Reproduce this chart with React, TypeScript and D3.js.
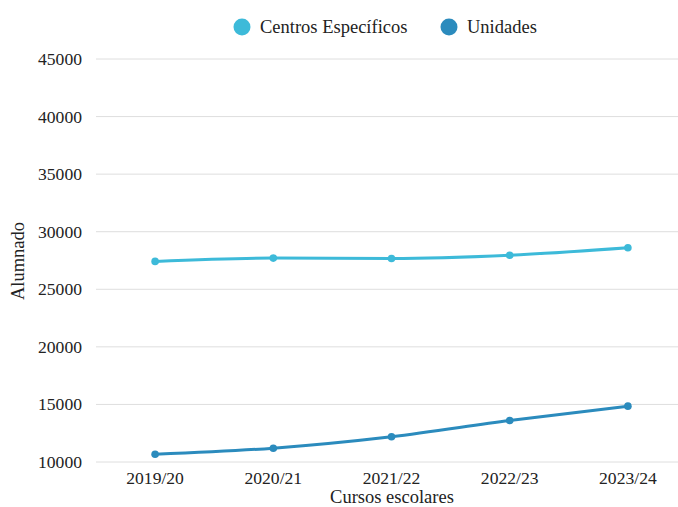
import React from "react";
import * as d3 from "d3";

const cursos = ["2019/20", "2020/21", "2021/22", "2022/23", "2023/24"];
const centrosEspecificos = [27420, 27710, 27680, 27960, 28610];
const unidades = [10670, 11200, 12190, 13600, 14850];
const yTicks = [10000, 15000, 20000, 25000, 30000, 35000, 40000, 45000];

const series = [
  { name: "Centros Específicos", values: centrosEspecificos, color: "#3dbad9" },
  { name: "Unidades", values: unidades, color: "#2b8bbd" },
];

const W = 678;
const H = 507;
const FONT = '"Liberation Serif", "Times New Roman", "DejaVu Serif", serif';
const textStyle = { fontFamily: FONT };
const TICK_SIZE = 17.6;
const TITLE_SIZE = 18.5;

export default function App() {
  const x = d3.scaleBand<string>().domain(cursos).range([96, 687]).padding(0);
  const y = d3.scaleLinear().domain([10000, 45000]).range([462, 59]);
  const cx = (c: string) => (x(c) ?? 0) + x.bandwidth() / 2;

  const line = d3
    .line<number>()
    .x((_, i) => cx(cursos[i]))
    .y((v) => y(v))
    .curve(d3.curveMonotoneX);

  const legendItems = [
    { ...series[0], cx: 242, tx: 260 },
    { ...series[1], cx: 449, tx: 467 },
  ];

  return (
    <svg
      width={W}
      height={H}
      style={{ position: "absolute", left: 0, top: 0, background: "#fff", fontFamily: FONT }}
    >
      {/* grid + y tick labels */}
      {yTicks.map((t) => (
        <g key={t}>
          <line x1={96} x2={W} y1={y(t)} y2={y(t)} stroke="#dedede" strokeWidth={1} />
          <text x={82} y={y(t)} dy="0.34em" textAnchor="end" fontSize={TICK_SIZE} fill="#222" style={textStyle}>
            {t}
          </text>
        </g>
      ))}

      {/* x tick labels */}
      {cursos.map((c) => (
        <text key={c} x={cx(c)} y={484} textAnchor="middle" fontSize={TICK_SIZE} fill="#222" style={textStyle}>
          {c}
        </text>
      ))}

      {/* axis titles */}
      <text x={392} y={503} textAnchor="middle" fontSize={TITLE_SIZE} fill="#222" style={textStyle}>
        Cursos escolares
      </text>
      <text
        transform={`translate(24, 261) rotate(-90)`}
        textAnchor="middle"
        fontSize={TITLE_SIZE}
        fill="#222"
        style={textStyle}
      >
        Alumnado
      </text>

      {/* lines and points */}
      {series.map((s) => (
        <g key={s.name}>
          <path d={line(s.values) ?? ""} fill="none" stroke={s.color} strokeWidth={3} />
          {s.values.map((v, i) => (
            <circle key={i} cx={cx(cursos[i])} cy={y(v)} r={3.8} fill={s.color} />
          ))}
        </g>
      ))}

      {/* legend */}
      {legendItems.map((l) => (
        <g key={l.name}>
          <circle cx={l.cx} cy={27} r={8.5} fill={l.color} />
          <text x={l.tx} y={27} dy="0.34em" fontSize={TITLE_SIZE} fill="#222" style={textStyle}>
            {l.name}
          </text>
        </g>
      ))}
    </svg>
  );
}
